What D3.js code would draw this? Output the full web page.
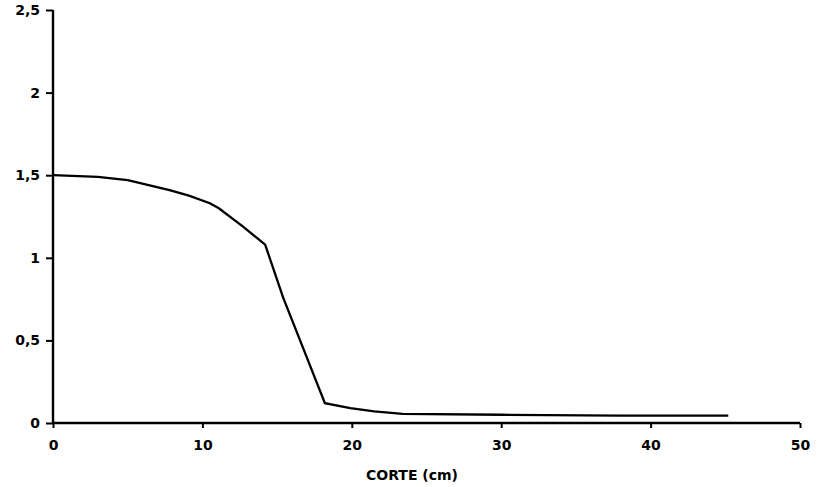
<!DOCTYPE html>
<html><head><meta charset="utf-8">
<script src="https://cdn.jsdelivr.net/npm/d3@7"></script>
<style>body{margin:0;background:#fff}</style>
</head><body>
<svg id="c" width="839" height="487"></svg>
<script>
const xVals = [0, 3, 5, 6.4, 7.8, 9.1, 10.5, 11.1, 12.7, 14.2, 15.4, 18.2, 19.9, 21.5, 23.4, 30, 38, 45.2];
const yVals = [1.5, 1.49, 1.47, 1.44, 1.41, 1.376, 1.33, 1.30, 1.19, 1.08, 0.76, 0.12, 0.09, 0.07, 0.055, 0.05, 0.045, 0.045];
const xTicks = [0, 10, 20, 30, 40, 50];
const yTicks = [0, 0.5, 1, 1.5, 2, 2.5];
const yTickLabels = ["0", "0,5", "1", "1,5", "2", "2,5"];
const xLabel = "CORTE (cm)";

const svg = d3.select("#c");
const x = d3.scaleLinear().domain([0, 50]).range([53, 800]);
const y = d3.scaleLinear().domain([0, 2.5]).range([423, 10]);
const font = "'DejaVu Sans', sans-serif";

const gx = svg.append("g").attr("transform", `translate(0,${y(0)})`)
  .call(d3.axisBottom(x).tickValues(xTicks).tickSize(5).tickPadding(12).tickFormat(d3.format("d")));
const gy = svg.append("g").attr("transform", `translate(${x(0)},0)`)
  .call(d3.axisLeft(y).tickValues(yTicks).tickSize(7).tickPadding(6).tickFormat((d,i)=>yTickLabels[i]));
[gx, gy].forEach(g => {
  g.select(".domain").attr("stroke", "#000").attr("stroke-width", 2.4);
  g.selectAll(".tick line").attr("stroke", "#000").attr("stroke-width", 2);
  g.selectAll("text").attr("fill", "#000").style("font-family", font).style("font-size", "14px").style("font-weight", "bold");
});
gx.select(".domain").attr("d", `M${x(0)},0H${x(50)}`);
gy.select(".domain").attr("d", `M0,${y(0)}V${y(2.5)}`);

svg.append("text").attr("x", 412).attr("y", 480).attr("text-anchor", "middle")
  .style("font-family", font).style("font-size", "14px").style("font-weight", "bold").text(xLabel);

const pts = xVals.map((v, i) => [v, yVals[i]]);
svg.append("path").datum(pts)
  .attr("fill", "none").attr("stroke", "#000").attr("stroke-width", 2.3)
  .attr("d", d3.line().x(d => x(d[0])).y(d => y(d[1])));
</script>
</body></html>
